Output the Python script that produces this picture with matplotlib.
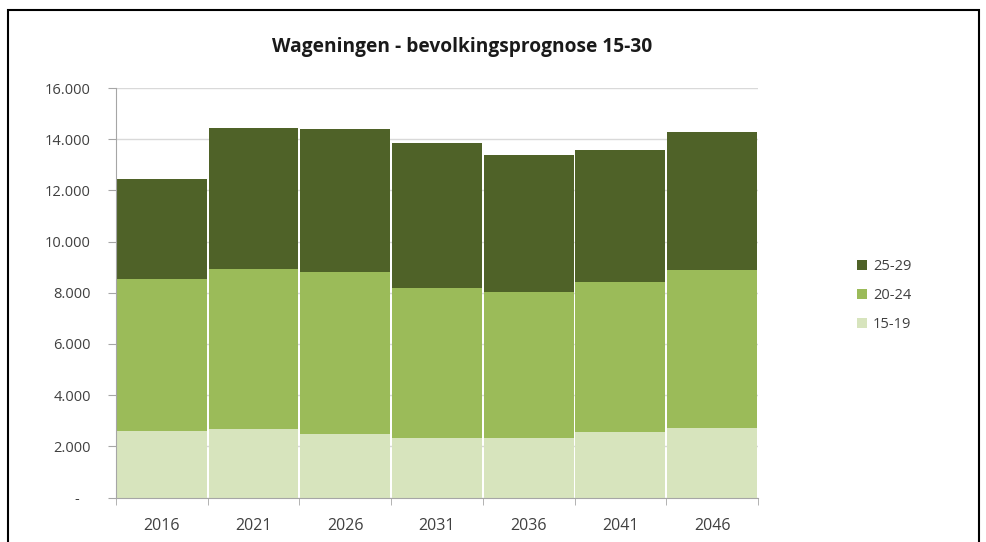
import matplotlib.pyplot as plt
import numpy as np
from matplotlib.patches import Rectangle

# Wageningen population forecast, ages 15-30, stacked by age group
YEARS = ['2016', '2021', '2026', '2031', '2036', '2041', '2046']
AGE_15_19 = [2600, 2690, 2470, 2310, 2340, 2570, 2730]
AGE_20_24 = [5940, 6220, 6330, 5860, 5680, 5840, 6160]
AGE_25_29 = [3890, 5510, 5580, 5670, 5350, 5160, 5380]
YTICKS = [0, 2000, 4000, 6000, 8000, 10000, 12000, 14000, 16000]

COLORS = {'15-19': '#D7E4BD', '20-24': '#9BBB59', '25-29': '#4F6228'}

plt.rcParams['font.family'] = ['Open Sans', 'DejaVu Sans']


def nl_fmt(v):
    # Excel accounting style: dot thousands, dash for zero
    return '-   ' if v == 0 else f'{v:,.0f}'.replace(',', '.')


fig = plt.figure(figsize=(9.87, 5.42), dpi=100)
ax = fig.add_axes([0.1175, 0.0821, 0.6505, 0.7555])

x = np.arange(len(YEARS))
bottom = np.zeros(len(YEARS))
handles = {}
for name, vals in [('15-19', AGE_15_19), ('20-24', AGE_20_24), ('25-29', AGE_25_29)]:
    h = ax.bar(x, vals, 0.98, bottom=bottom, color=COLORS[name],
               linewidth=0, label=name, zorder=2)
    handles[name] = h
    bottom += np.array(vals)

ax.set_xlim(-0.5, len(YEARS) - 0.5)
ax.set_ylim(0, 16000)
ax.set_yticks(YTICKS)
ax.set_yticklabels([nl_fmt(v) for v in YTICKS], fontsize=10.5, color='#404040')
ax.set_xticks(x)
ax.set_xticklabels(YEARS, fontsize=11.5, color='#404040')
ax.set_xticks(np.arange(-0.5, len(YEARS)), minor=True)
ax.tick_params(axis='x', which='major', length=0, pad=15)
ax.tick_params(axis='x', which='minor', length=5, color='#A6A6A6')
ax.tick_params(axis='y', length=6, color='#A6A6A6', pad=12)
ax.grid(axis='y', color='#D9D9D9', linewidth=1.0, zorder=0)
ax.set_axisbelow(True)
for s in ['top', 'right']:
    ax.spines[s].set_visible(False)
for s in ['left', 'bottom']:
    ax.spines[s].set_color('#A6A6A6')

fig.text(0.468, 0.913, 'Wageningen - bevolkingsprognose 15-30',
         ha='center', va='center', fontsize=13.8, fontweight='bold', color='#1a1a1a')

order = ['25-29', '20-24', '15-19']
fig.legend([handles[k] for k in order], order, loc='center left',
           bbox_to_anchor=(0.855, 0.455), frameon=False, fontsize=10.5,
           handlelength=0.7, handleheight=0.7, handletextpad=0.4,
           labelspacing=0.95, labelcolor='#404040')

# outer chart border
fig.add_artist(Rectangle((0.008, -0.05), 0.984, 1.032, transform=fig.transFigure,
                         fill=False, edgecolor='black', linewidth=1.5))

fig.savefig('out.png', dpi=100)
